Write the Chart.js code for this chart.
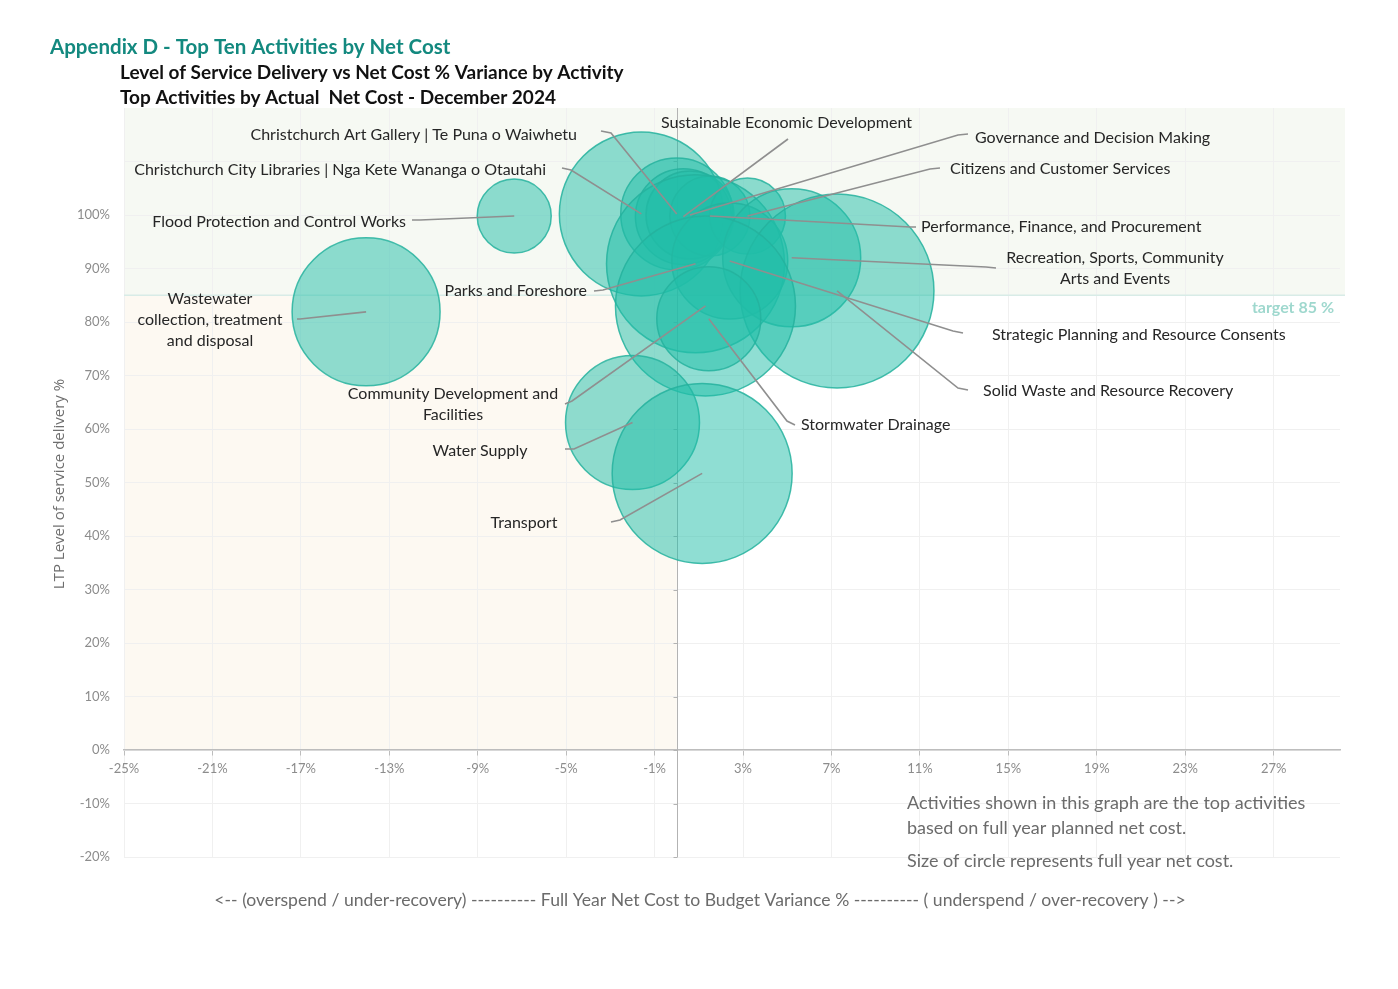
<!DOCTYPE html>
<html>
<head>
<meta charset="utf-8">
<script src="https://cdn.jsdelivr.net/npm/chart.js@4"></script>
<style>
  html, body { margin: 0; padding: 0; background: #fff; }
  #wrap { width: 1398px; height: 989px; position: relative; }
</style>
</head>
<body>
<div id="wrap"><canvas id="LosChart"></canvas></div>
<script>
// Level of service vs net cost variance
var activities = [
  'Christchurch City Libraries | Nga Kete Wananga o Otautahi',
  'Christchurch Art Gallery | Te Puna o Waiwhetu',
  'Sustainable Economic Development',
  'Governance and Decision Making',
  'Performance, Finance, and Procurement',
  'Citizens and Customer Services',
  'Flood Protection and Control Works',
  'Wastewater collection, treatment and disposal',
  'Parks and Foreshore',
  'Strategic Planning and Resource Consents',
  'Recreation, Sports, Community Arts and Events',
  'Solid Waste and Resource Recovery',
  'Community Development and Facilities',
  'Stormwater Drainage',
  'Water Supply',
  'Transport'
];
// full year net cost to budget variance %
var variancePct = [-1.6, 0.0, 0.3, 0.6, 1.5, 3.2, -7.35, -14.05, 0.85, 2.4, 5.2, 7.25, 1.3, 1.45, -2.0, 1.15];
// LTP level of service delivery %
var serviceLevel = [100.2, 100.2, 99.7, 100.0, 99.8, 99.8, 99.8, 81.9, 90.9, 91.4, 92.0, 85.8, 83.0, 80.6, 61.2, 51.7];
// full year net cost (relative)
var netCost = [83, 38.7, 28.4, 23.9, 19.8, 17.8, 16.9, 67.6, 97.8, 41.5, 58.8, 116, 100, 33.4, 55.4, 100];

var xTickValues = [-25, -21, -17, -13, -9, -5, -1, 3, 7, 11, 15, 19, 23, 27];
var yTickValues = [-20, -10, 0, 10, 20, 30, 40, 50, 60, 70, 80, 90, 100, 110];
var targetLevel = 85;

var LABEL_FONT = '16px Lato, "Open Sans", sans-serif';

// label text placement (pixels), leader goes from p1 -> p2 -> bubble centre
var labelLayout = [
  {lines: ['Christchurch City Libraries | Nga Kete Wananga o Otautahi'], x: 546, y: 170, align: 'right', p1: [562, 168], p2: [571, 170]},
  {lines: ['Christchurch Art Gallery | Te Puna o Waiwhetu'], x: 577, y: 135, align: 'right', p1: [601, 131], p2: [611, 133]},
  {lines: ['Sustainable Economic Development'], x: 661, y: 123, align: 'left', p1: [788, 139], p2: [788, 139]},
  {lines: ['Governance and Decision Making'], x: 975, y: 138, align: 'left', p1: [968, 134], p2: [958, 135]},
  {lines: ['Performance, Finance, and Procurement'], x: 921, y: 227, align: 'left', p1: [916, 227], p2: [910, 227]},
  {lines: ['Citizens and Customer Services'], x: 950, y: 169, align: 'left', p1: [940, 168], p2: [930, 169]},
  {lines: ['Flood Protection and Control Works'], x: 406, y: 222, align: 'right', p1: [412, 220], p2: [420, 220]},
  {lines: ['Wastewater', 'collection, treatment', 'and disposal'], x: 210, y: 299, align: 'center', p1: [297, 319], p2: [300, 319]},
  {lines: ['Parks and Foreshore'], x: 587, y: 291, align: 'right', p1: [594, 291], p2: [603, 290]},
  {lines: ['Strategic Planning and Resource Consents'], x: 992, y: 335, align: 'left', p1: [963, 333], p2: [953, 331]},
  {lines: ['Recreation, Sports, Community', 'Arts and Events'], x: 1115, y: 258, align: 'center', p1: [996, 268], p2: [986, 267]},
  {lines: ['Solid Waste and Resource Recovery'], x: 983, y: 391, align: 'left', p1: [968, 390], p2: [958, 388]},
  {lines: ['Community Development and', 'Facilities'], x: 453, y: 394, align: 'center', p1: [565, 404], p2: [572, 401]},
  {lines: ['Stormwater Drainage'], x: 801, y: 425, align: 'left', p1: [795, 425], p2: [787, 421]},
  {lines: ['Water Supply'], x: 480, y: 451, align: 'center', p1: [565, 449], p2: [574, 449]},
  {lines: ['Transport'], x: 524, y: 523, align: 'center', p1: [611, 522], p2: [620, 520]}
];

var bubbles = activities.map(function (a, i) {
  return {x: variancePct[i], y: serviceLevel[i], r: Math.sqrt(netCost[i]) * 9};
});

var backdrop = {
  id: 'backdrop',
  beforeDraw: function (chart) {
    var c = chart.ctx, a = chart.chartArea, xs = chart.scales.x, ys = chart.scales.y;
    c.save();
    c.fillStyle = '#ffffff';
    c.fillRect(0, 0, chart.width, chart.height);
    // above target band
    var yT = ys.getPixelForValue(targetLevel);
    c.fillStyle = '#f6f9f3';
    c.fillRect(a.left, a.top, a.right - a.left + 5, yT - a.top);
    // overspend & below target
    var x0 = xs.getPixelForValue(0), y0 = ys.getPixelForValue(0);
    c.fillStyle = '#fdf9f2';
    c.fillRect(a.left, yT, x0 - a.left, y0 - yT);
    c.restore();
  },
  beforeDatasetsDraw: function (chart) {
    var c = chart.ctx, a = chart.chartArea, xs = chart.scales.x, ys = chart.scales.y;
    c.save();
    var yT = ys.getPixelForValue(targetLevel);
    c.strokeStyle = '#d8ece7';
    c.lineWidth = 1.5;
    c.beginPath(); c.moveTo(a.left, yT); c.lineTo(a.right + 5, yT); c.stroke();
    var x0 = Math.round(xs.getPixelForValue(0)) + 0.5;
    c.strokeStyle = '#b3b3b3';
    c.lineWidth = 1;
    c.beginPath(); c.moveTo(x0, a.top); c.lineTo(x0, a.bottom); c.stroke();
    yTickValues.forEach(function (v) {
      var yy = Math.round(ys.getPixelForValue(v)) + 0.5;
      c.beginPath(); c.moveTo(x0 - 4, yy); c.lineTo(x0, yy); c.stroke();
    });
    c.restore();
  },
  afterDatasetsDraw: function (chart) {
    var c = chart.ctx, xs = chart.scales.x, ys = chart.scales.y;
    c.save();
    // leader lines
    c.strokeStyle = '#8f8f8f';
    c.lineWidth = 1.6;
    labelLayout.forEach(function (l, i) {
      var cx = xs.getPixelForValue(variancePct[i]);
      var cy = ys.getPixelForValue(serviceLevel[i]);
      c.beginPath();
      c.moveTo(l.p1[0], l.p1[1]);
      c.lineTo(l.p2[0], l.p2[1]);
      c.lineTo(cx, cy);
      c.stroke();
    });
    // label text
    c.font = LABEL_FONT;
    c.fillStyle = '#262626';
    c.textBaseline = 'middle';
    labelLayout.forEach(function (l) {
      c.textAlign = l.align;
      l.lines.forEach(function (t, k) {
        c.fillText(t, l.x, l.y + k * 21);
      });
    });
    // target text
    c.font = 'bold 16px Lato, sans-serif';
    c.fillStyle = '#9fd8ce';
    c.textAlign = 'right';
    c.fillText('target 85 %', 1334, 308);
    c.restore();
  },
  afterDraw: function (chart) {
    var c = chart.ctx;
    c.save();
    c.textBaseline = 'middle';
    c.textAlign = 'left';
    c.font = 'bold 20.5px Lato, sans-serif';
    c.fillStyle = '#13897f';
    c.fillText('Appendix D - Top Ten Activities by Net Cost', 50, 47);
    c.font = 'bold 19px Lato, sans-serif';
    c.fillStyle = '#111111';
    c.fillText('Level of Service Delivery vs Net Cost % Variance by Activity', 120, 73);
    c.fillText('Top Activities by Actual  Net Cost - December 2024', 120, 98);
    // axis titles
    c.font = '17.6px Lato, sans-serif';
    c.fillStyle = '#6b6b6b';
    c.textAlign = 'center';
    c.fillText('<-- (overspend / under-recovery) ---------- Full Year Net Cost to Budget Variance % ---------- ( underspend / over-recovery ) -->', 700, 900);
    c.font = '18px Lato, sans-serif';
    c.textAlign = 'left';
    c.fillText('Activities shown in this graph are the top activities', 907, 803);
    c.fillText('based on full year planned net cost.', 907, 828);
    c.fillText('Size of circle represents full year net cost.', 907, 861);
    c.translate(60, 484);
    c.rotate(-Math.PI / 2);
    c.textAlign = 'center';
    c.font = '15px "Open Sans", sans-serif';
    c.fillStyle = '#6e6e6e';
    c.fillText('LTP Level of service delivery %', 0, 0);
    c.restore();
  }
};

var ctx = document.getElementById('LosChart').getContext('2d');
var myChart = new Chart(ctx, {
  type: 'bubble',
  data: {
    datasets: [{
      label: 'Activities',
      data: bubbles,
      backgroundColor: 'rgba(31, 189, 167, 0.5)',
      borderColor: 'rgba(36, 178, 158, 0.85)',
      borderWidth: 1.5
    }]
  },
  options: {
    responsive: true,
    maintainAspectRatio: false,
    animation: false,
    events: [],
    layout: {autoPadding: false, padding: {top: 108, right: 58, bottom: 132, left: 0}},
    plugins: {legend: {display: false}, tooltip: {enabled: false}},
    scales: {
      x: {
        type: 'linear',
        min: -25,
        max: 30,
        position: {y: 0},
        afterBuildTicks: function (s) { s.ticks = xTickValues.map(function (v) { return {value: v}; }); },
        ticks: {
          callback: function (v) { return v + '%'; },
          color: '#8c8c8c',
          font: {size: 13, family: 'Lato, sans-serif'},
          autoSkip: false,
          maxRotation: 0,
          padding: 6
        },
        grid: {color: '#f0f0f0', tickColor: '#bdbdbd', tickLength: 5},
        border: {color: '#bdbdbd', width: 1.5}
      },
      y: {
        type: 'linear',
        min: -20,
        max: 120,
        position: 'left',
        afterBuildTicks: function (s) { s.ticks = yTickValues.map(function (v) { return {value: v}; }); },
        afterFit: function (s) { s.width = 124; },
        ticks: {
          callback: function (v) { return v <= 100 ? v + '%' : ''; },
          color: '#8c8c8c',
          font: {size: 13, family: 'Lato, sans-serif'},
          padding: 14
        },
        grid: {color: '#f0f0f0', drawTicks: false},
        border: {display: false}
      }
    }
  },
  plugins: [backdrop]
});
</script>
</body>
</html>
